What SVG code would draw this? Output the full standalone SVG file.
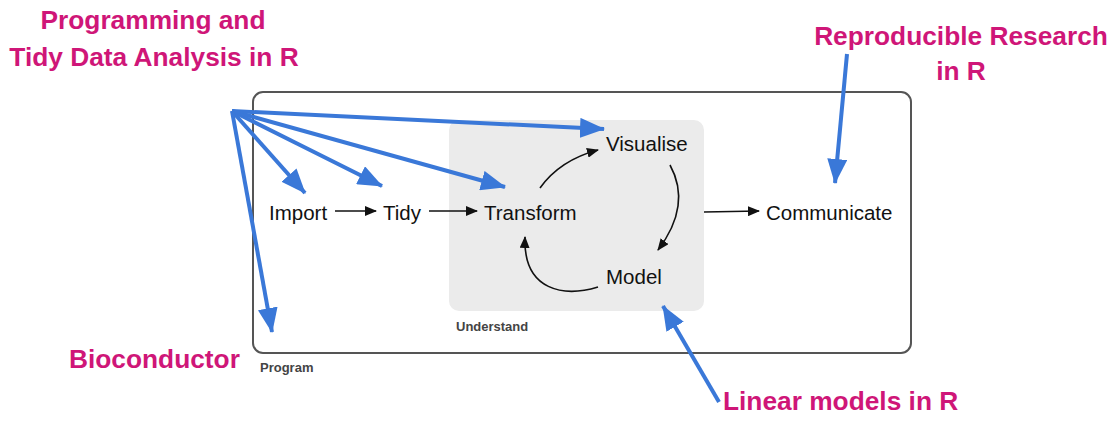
<svg xmlns="http://www.w3.org/2000/svg" width="1119" height="422" viewBox="0 0 1119 422">
<style>
.lbl{font-family:"Liberation Sans",Arial,sans-serif;font-size:20.5px;fill:#111}
.grp{font-family:"Liberation Sans",Arial,sans-serif;font-size:13px;font-weight:bold;fill:#444}
.ann{font-family:"Liberation Sans",Arial,sans-serif;font-size:26.3px;font-weight:bold;fill:#cf1678}
.blk{fill:none;stroke:#111;stroke-width:1.6}
.blue{fill:none;stroke:#3a78d8;stroke-width:4}
</style>
<defs>
<marker id="ah" markerUnits="userSpaceOnUse" markerWidth="12" markerHeight="10" refX="11" refY="5" orient="auto"><path d="M0,0 L12,5 L0,10 Z" fill="#111"/></marker>
<marker id="bh" markerUnits="userSpaceOnUse" markerWidth="25" markerHeight="20" refX="24" refY="10" orient="auto"><path d="M0,0 L25,10 L0,20 Z" fill="#3a78d8"/></marker>
</defs>
<g id="program"><rect x="253" y="92" width="658" height="261" rx="10" fill="#fff" stroke="#555" stroke-width="2"/><text class="grp" x="260" y="372">Program</text></g>
<g id="understand"><rect x="449" y="120" width="255" height="191" rx="10" fill="#ebebeb"/><text class="grp" x="456" y="331">Understand</text></g>
<g id="import"><text class="lbl" x="269" y="220">Import</text></g>
<g id="tidy"><text class="lbl" x="383" y="220">Tidy</text></g>
<g id="transform"><text class="lbl" x="484" y="220">Transform</text></g>
<g id="visualise"><text class="lbl" x="606" y="151">Visualise</text></g>
<g id="model"><text class="lbl" x="606" y="284">Model</text></g>
<g id="communicate"><text class="lbl" x="766" y="220">Communicate</text></g>
<g id="ann-prog"><text class="ann" x="153" y="29" text-anchor="middle">Programming and</text><text class="ann" x="154" y="66" text-anchor="middle">Tidy Data Analysis in R</text></g>
<g id="ann-repro"><text class="ann" x="961" y="45" text-anchor="middle">Reproducible Research</text><text class="ann" x="961" y="80" text-anchor="middle">in R</text></g>
<g id="ann-bioc"><text class="ann" x="69" y="368">Bioconductor</text></g>
<g id="ann-lm"><text class="ann" x="723" y="410">Linear models in R</text></g>
<g id="connectors">
<path class="blk" d="M335,211 L376,211" marker-end="url(#ah)"/>
<path class="blk" d="M429,211 L477,211" marker-end="url(#ah)"/>
<path class="blk" d="M540,188 Q560,160 598,150" marker-end="url(#ah)"/>
<path class="blk" d="M670,165 Q692,205 658,250" marker-end="url(#ah)"/>
<path class="blk" d="M598,287 C565,297 523,292 525,237" marker-end="url(#ah)"/>
<path class="blk" d="M704,212 L759,211" marker-end="url(#ah)"/>
<path class="blue" d="M232,111 L305,193" marker-end="url(#bh)"/>
<path class="blue" d="M232,111 L382,186" marker-end="url(#bh)"/>
<path class="blue" d="M232,111 L505,187" marker-end="url(#bh)"/>
<path class="blue" d="M232,111 L604,129" marker-end="url(#bh)"/>
<path class="blue" d="M232,111 L272,332" marker-end="url(#bh)"/>
<path class="blue" d="M847,54 L835,183" marker-end="url(#bh)"/>
<path class="blue" d="M719,402 L663,306" marker-end="url(#bh)"/>
</g>
</svg>
